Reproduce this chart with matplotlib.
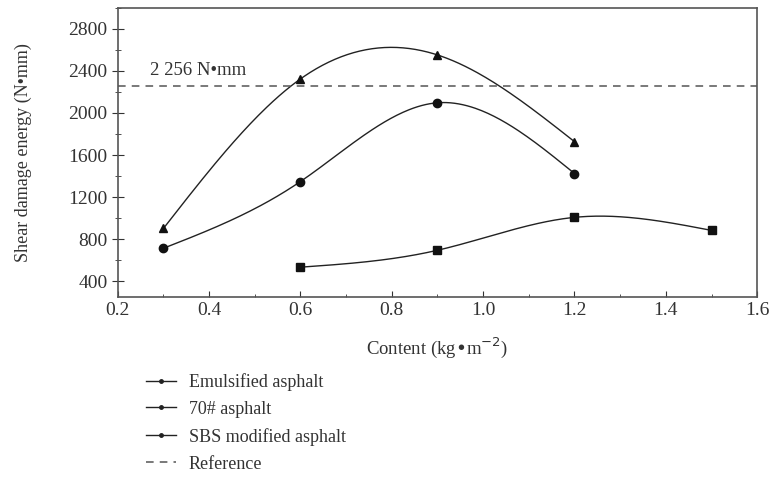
import matplotlib

matplotlib.use("Agg")
import matplotlib.pyplot as plt
import numpy as np
from matplotlib.ticker import MultipleLocator

plt.rcParams["font.family"] = ["Liberation Serif", "DejaVu Serif"]

emul_x = [0.6, 0.9, 1.2, 1.5]
emul_y = [533, 694, 1007, 883]
a70_x = [0.3, 0.6, 0.9, 1.2]
a70_y = [713, 1348, 2097, 1424]
sbs_x = [0.3, 0.6, 0.9, 1.2]
sbs_y = [902, 2324, 2552, 1727]
reference = 2256


def spline(xs, ys, n=200):
    # natural cubic spline through the points
    x = np.asarray(xs, float)
    y = np.asarray(ys, float)
    k = len(x)
    h = np.diff(x)
    A = np.zeros((k, k))
    b = np.zeros(k)
    A[0, 0] = A[-1, -1] = 1
    for i in range(1, k - 1):
        A[i, i - 1] = h[i - 1]
        A[i, i] = 2 * (h[i - 1] + h[i])
        A[i, i + 1] = h[i]
        b[i] = 3 * ((y[i + 1] - y[i]) / h[i] - (y[i] - y[i - 1]) / h[i - 1])
    c = np.linalg.solve(A, b)
    xx = np.linspace(x[0], x[-1], n)
    idx = np.clip(np.searchsorted(x, xx) - 1, 0, k - 2)
    dx = xx - x[idx]
    bb = (y[1:] - y[:-1]) / h - h * (2 * c[:-1] + c[1:]) / 3
    d = (c[1:] - c[:-1]) / (3 * h)
    yy = y[idx] + bb[idx] * dx + c[idx] * dx ** 2 + d[idx] * dx ** 3
    return xx, yy


fig = plt.figure(figsize=(7.75, 4.9), dpi=100)
ax = fig.add_axes([0.152, 0.394, 0.825, 0.59])

series = [
    (emul_x, emul_y, "s", "Emulsified asphalt"),
    (a70_x, a70_y, "o", "70# asphalt"),
    (sbs_x, sbs_y, "^", "SBS modified asphalt"),
]
handles = []
for xs, ys, mk, label in series:
    sx, sy = spline(xs, ys)
    ax.plot(sx, sy, color="#222222", lw=1.0)
    ax.plot(xs, ys, linestyle="none", marker=mk, color="#111111", ms=6)
    h, = ax.plot([], [], color="#222222", lw=1.0, marker="o", ms=2.5, label=label)
    handles.append(h)

ref = ax.axhline(reference, color="#555555", lw=1.1, ls=(0, (5, 4)), label="Reference")
handles.append(ref)
ax.text(0.27, 2325, "2 256 N\u2022mm", fontsize=13.5, ha="left", va="bottom", color="#333333")

ax.set_xlim(0.2, 1.6)
ax.set_ylim(250, 3000)
ax.xaxis.set_major_locator(MultipleLocator(0.2))
ax.xaxis.set_minor_locator(MultipleLocator(0.1))
ax.yaxis.set_major_locator(MultipleLocator(400))
ax.yaxis.set_minor_locator(MultipleLocator(200))
ax.set_yticks(np.arange(400, 2801, 400))
ax.xaxis.set_major_formatter(lambda v, p: f"{v:.1f}")
ax.tick_params(which="both", labelsize=14, colors="#333333")
ax.tick_params(axis="x", which="major", direction="in", length=4)
ax.tick_params(axis="x", which="minor", direction="in", length=2)
ax.tick_params(axis="y", which="major", direction="inout", length=8)
ax.tick_params(axis="y", which="minor", direction="inout", length=4)
for s in ax.spines.values():
    s.set_color("#555555")
    s.set_linewidth(1.2)

ax.set_xlabel("Content (kg\u2022m$^{-2}$)", fontsize=13.5, color="#333333", labelpad=12)
ax.set_ylabel("Shear damage energy (N\u2022mm)", fontsize=13, color="#333333", labelpad=26)

fig.legend(handles=handles, loc="upper left", bbox_to_anchor=(0.168, 0.272),
           frameon=False, fontsize=13, handlelength=1.65, handletextpad=0.7,
           labelspacing=0.55, labelcolor="#333333")

fig.savefig("out.png", dpi=100)
